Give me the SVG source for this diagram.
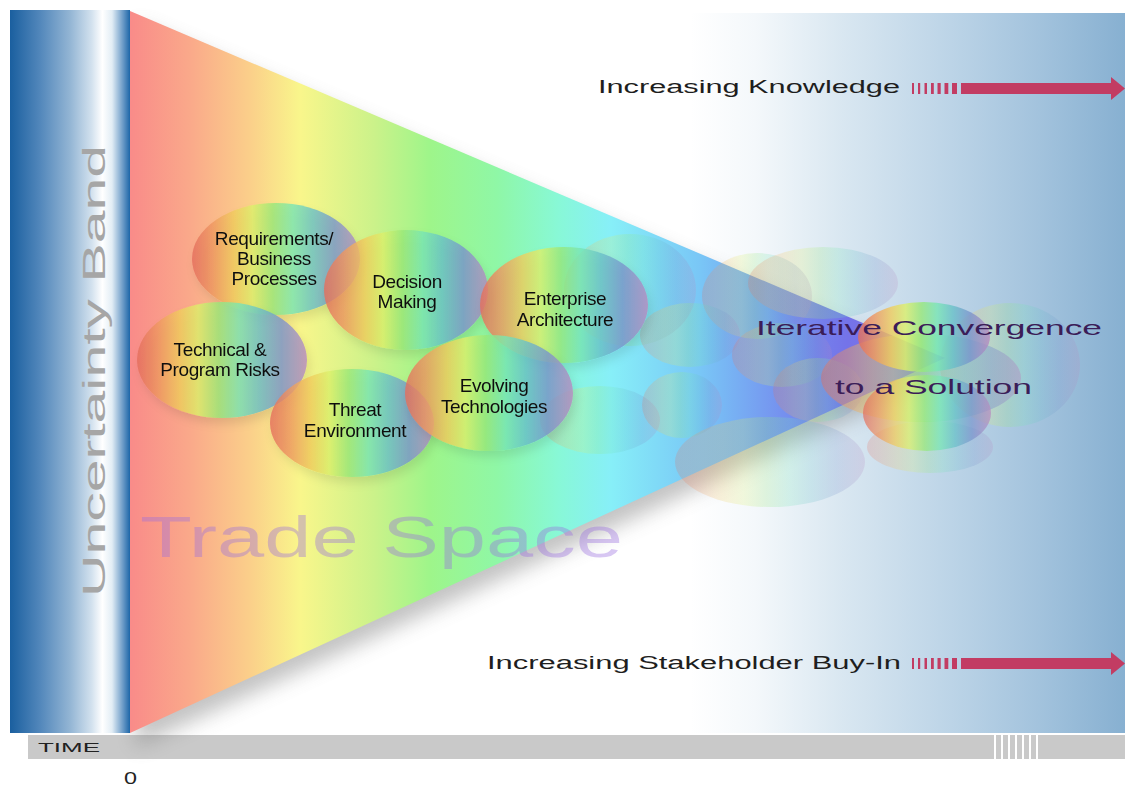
<svg xmlns="http://www.w3.org/2000/svg" width="1125" height="785" viewBox="0 0 1125 785">
  <style>
    .sans { font-family: "Liberation Sans", Arial, sans-serif; }
    .label { font-family: "Liberation Sans", Arial, sans-serif; font-size: 19px; fill: #111; text-anchor: middle; letter-spacing: -0.4px; }
    .caption { font-family: "Liberation Sans", Arial, sans-serif; font-size: 18px; fill: #1e1e1e; }
    .goal { font-family: "Liberation Sans", Arial, sans-serif; font-size: 21px; fill: #3b1d58; }
    .bubble { fill: url(#rainbow); }
    .ghost { fill: url(#rainbow); opacity: 0.22; }
  </style>
  <defs>
    <!-- blue uncertainty band -->
    <linearGradient id="band" x1="0" y1="0" x2="1" y2="0">
      <stop offset="0" stop-color="#1a5f9f"/>
      <stop offset="0.25" stop-color="#5287bb"/>
      <stop offset="0.5" stop-color="#93b5d4"/>
      <stop offset="0.68" stop-color="#d2e1ee"/>
      <stop offset="0.77" stop-color="#ffffff"/>
      <stop offset="0.85" stop-color="#e2edf5"/>
      <stop offset="0.94" stop-color="#6d9cc8"/>
      <stop offset="1" stop-color="#1d66a8"/>
    </linearGradient>
    <!-- pale blue backdrop on the right -->
    <linearGradient id="panel" gradientUnits="userSpaceOnUse" x1="690" y1="0" x2="1125" y2="0">
      <stop offset="0" stop-color="#ffffff"/>
      <stop offset="0.15" stop-color="#f4f8fb"/>
      <stop offset="0.35" stop-color="#d9e7f1"/>
      <stop offset="0.6" stop-color="#bcd4e7"/>
      <stop offset="0.8" stop-color="#a3c3dd"/>
      <stop offset="1" stop-color="#87b0d1"/>
    </linearGradient>
    <!-- spectrum across the trade-space wedge -->
    <linearGradient id="spectrum" gradientUnits="userSpaceOnUse" x1="130" y1="0" x2="945" y2="0">
      <stop offset="0" stop-color="#f98b89"/>
      <stop offset="0.074" stop-color="#faa98a"/>
      <stop offset="0.147" stop-color="#fbcf8a"/>
      <stop offset="0.209" stop-color="#f9f68b"/>
      <stop offset="0.3" stop-color="#cbf28a"/>
      <stop offset="0.368" stop-color="#9ef58a"/>
      <stop offset="0.45" stop-color="#8ff7a6"/>
      <stop offset="0.525" stop-color="#88f8d6"/>
      <stop offset="0.59" stop-color="#87eff8"/>
      <stop offset="0.7" stop-color="#79c6f6"/>
      <stop offset="0.8" stop-color="#7591ef"/>
      <stop offset="0.88" stop-color="#7473e9"/>
      <stop offset="1" stop-color="#8a6de0"/>
    </linearGradient>
    <!-- rainbow fill used by every bubble -->
    <linearGradient id="rainbow" x1="0" y1="0" x2="1" y2="0">
      <stop offset="0" stop-color="#e46c5c"/>
      <stop offset="0.12" stop-color="#ee9660"/>
      <stop offset="0.25" stop-color="#f0cc5c"/>
      <stop offset="0.36" stop-color="#dcf06a"/>
      <stop offset="0.48" stop-color="#98e878"/>
      <stop offset="0.6" stop-color="#78e6b4"/>
      <stop offset="0.72" stop-color="#68c0c8"/>
      <stop offset="0.85" stop-color="#7894cc"/>
      <stop offset="1" stop-color="#b88ac0"/>
    </linearGradient>
    <filter id="wedgeShadow" x="-10%" y="-10%" width="120%" height="130%">
      <feGaussianBlur stdDeviation="10"/>
    </filter>
    <filter id="lift" x="-20%" y="-20%" width="140%" height="150%">
      <feDropShadow dx="3" dy="6" stdDeviation="5" flood-color="#000" flood-opacity="0.12"/>
    </filter>
    <!-- progress arrow: ramped stripes, bar and head, centred on y=0 -->
    <g id="progress">
      <rect x="912" y="-5.5" width="2" height="11"/>
      <rect x="918" y="-5.5" width="2.2" height="11"/>
      <rect x="924.5" y="-5.5" width="2.5" height="11"/>
      <rect x="931" y="-5.5" width="2.8" height="11"/>
      <rect x="937.5" y="-5.5" width="3.2" height="11"/>
      <rect x="944.5" y="-5.5" width="3.8" height="11"/>
      <rect x="952" y="-5.5" width="5" height="11"/>
      <rect x="961" y="-5.5" width="151" height="11"/>
      <polygon points="1111,-11.5 1125,0 1111,11.5"/>
    </g>
  </defs>

  <rect width="1125" height="785" fill="#ffffff"/>

  <!-- right-hand backdrop -->
  <rect x="690" y="13" width="435" height="720" fill="url(#panel)"/>

  <!-- time axis -->
  <g id="time-axis">
    <rect x="28" y="735" width="1097" height="24" fill="#c9c9c9"/>
    <g fill="#ffffff">
      <rect x="994" y="735" width="2" height="24"/>
      <rect x="1001" y="735" width="2" height="24"/>
      <rect x="1008" y="735" width="2" height="24"/>
      <rect x="1015" y="735" width="2" height="24"/>
      <rect x="1022" y="735" width="2" height="24"/>
      <rect x="1029" y="735" width="2" height="24"/>
      <rect x="1036" y="735" width="2" height="24"/>
    </g>
    <text class="sans" x="38" y="752" font-size="13.5" fill="#222" textLength="62" lengthAdjust="spacingAndGlyphs">TIME</text>
    <text class="sans" x="124" y="784" font-size="16" fill="#222" textLength="13" lengthAdjust="spacingAndGlyphs">0</text>
  </g>

  <!-- trade-space wedge with its soft shadow -->
  <polygon points="136,25 951,372 136,747" fill="#7a7a7a" opacity="0.45" filter="url(#wedgeShadow)"/>
  <rect x="10" y="10" width="120" height="723" fill="url(#band)"/>
  <polygon id="trade-space" points="130,11 945,358 130,733" fill="url(#spectrum)"/>

  <text class="sans" transform="translate(105,371) rotate(-90)" x="-226" y="0" font-size="32" fill="#a6a6a6" textLength="452" lengthAdjust="spacingAndGlyphs">Uncertainty Band</text>
  <text class="sans" x="140" y="557" font-size="57" fill="#9a6ee0" opacity="0.38" textLength="483" lengthAdjust="spacingAndGlyphs">Trade Space</text>

  <!-- faint bubbles drifting toward the solution -->
  <g id="drift">
    <ellipse class="ghost" cx="630" cy="290" rx="66" ry="56"/>
    <ellipse class="ghost" cx="757" cy="296" rx="55" ry="43"/>
    <ellipse class="ghost" cx="823" cy="283" rx="75" ry="36"/>
    <ellipse class="ghost" cx="690" cy="335" rx="50" ry="32"/>
    <ellipse class="ghost" cx="782" cy="355" rx="50" ry="32"/>
    <ellipse class="ghost" cx="600" cy="420" rx="60" ry="34"/>
    <ellipse class="ghost" cx="682" cy="405" rx="40" ry="33"/>
    <ellipse class="ghost" cx="818" cy="390" rx="45" ry="32"/>
    <ellipse class="ghost" cx="770" cy="462" rx="95" ry="45"/>
    <ellipse class="ghost" cx="930" cy="447" rx="63" ry="26"/>
    <ellipse class="ghost" cx="1010" cy="365" rx="70" ry="62"/>
  </g>

  <!-- trade-space drivers -->
  <g id="node-requirements" filter="url(#lift)">
    <ellipse class="bubble" cx="276" cy="259" rx="84" ry="56" opacity="0.8"/>
    <text class="label" x="274" y="245">Requirements/</text>
    <text class="label" x="274" y="265">Business</text>
    <text class="label" x="274" y="285">Processes</text>
  </g>
  <g id="node-risks" filter="url(#lift)">
    <ellipse class="bubble" cx="222" cy="360" rx="85" ry="58" opacity="0.8"/>
    <text class="label" x="220" y="356">Technical &amp;</text>
    <text class="label" x="220" y="376">Program Risks</text>
  </g>
  <g id="node-decision" filter="url(#lift)">
    <ellipse class="bubble" cx="406" cy="290" rx="82" ry="60" opacity="0.8"/>
    <text class="label" x="407" y="288">Decision</text>
    <text class="label" x="407" y="308">Making</text>
  </g>
  <g id="node-threat" filter="url(#lift)">
    <ellipse class="bubble" cx="352" cy="423" rx="82" ry="54" opacity="0.8"/>
    <text class="label" x="355" y="416">Threat</text>
    <text class="label" x="355" y="437">Environment</text>
  </g>
  <g id="node-enterprise" filter="url(#lift)">
    <ellipse class="bubble" cx="564" cy="305" rx="84" ry="58" opacity="0.8"/>
    <text class="label" x="565" y="305">Enterprise</text>
    <text class="label" x="565" y="326">Architecture</text>
  </g>
  <g id="node-technologies" filter="url(#lift)">
    <ellipse class="bubble" cx="489" cy="393" rx="84" ry="58" opacity="0.8"/>
    <text class="label" x="494" y="392">Evolving</text>
    <text class="label" x="494" y="413">Technologies</text>
  </g>

  <!-- converged solution -->
  <g id="node-convergence">
    <ellipse class="bubble" cx="921" cy="378" rx="100" ry="44" opacity="0.45"/>
    <ellipse class="bubble" cx="927" cy="413" rx="64" ry="38" opacity="0.7"/>
    <ellipse class="bubble" cx="924" cy="337" rx="66" ry="35" opacity="0.8"/>
    <text class="goal" x="756" y="335" textLength="346" lengthAdjust="spacingAndGlyphs">Iterative Convergence</text>
    <text class="goal" x="835" y="394" textLength="197" lengthAdjust="spacingAndGlyphs">to a Solution</text>
  </g>

  <!-- progress arrows -->
  <g id="progress-arrows" fill="#c23c63">
    <use href="#progress" transform="translate(0,88.5)"/>
    <use href="#progress" transform="translate(0,663.5)"/>
  </g>
  <text class="caption" x="598" y="93" textLength="302" lengthAdjust="spacingAndGlyphs">Increasing Knowledge</text>
  <text class="caption" x="487" y="669" textLength="414" lengthAdjust="spacingAndGlyphs">Increasing Stakeholder Buy-In</text>
</svg>
